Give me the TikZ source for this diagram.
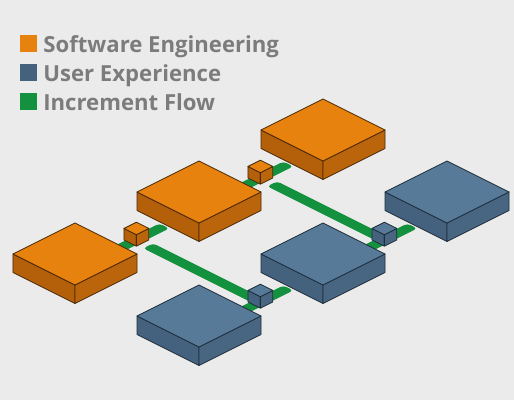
\documentclass[tikz,border=0pt]{standalone}
\usepackage{fontspec}
\setmainfont{Open Sans}
\usepackage{tikz}
\usetikzlibrary{positioning}

\definecolor{bgGray}{HTML}{EBEBEB}
\definecolor{orTop}{HTML}{E8820F}
\definecolor{orLeft}{HTML}{B4600B}
\definecolor{orRight}{HTML}{BA650C}
\definecolor{orEdge}{HTML}{4A2A05}
\definecolor{uxTop}{HTML}{567A98}
\definecolor{uxLeft}{HTML}{44617D}
\definecolor{uxRight}{HTML}{486682}
\definecolor{uxEdge}{HTML}{1F2E3C}
\definecolor{flowGreen}{HTML}{13913F}
\definecolor{legGray}{HTML}{7C7C7C}

\newcommand{\zground}{-0.37}
% block: a min, b min, size a, size b, bottom, top, colour prefix
\newcommand{\isoblock}[7]{%
  \filldraw[fill=#7Left, draw=#7Edge] (#1,#2,#6) -- (#1,#2+#4,#6) -- (#1,#2+#4,#5) -- (#1,#2,#5) -- cycle;
  \filldraw[fill=#7Right, draw=#7Edge] (#1,#2+#4,#6) -- (#1+#3,#2+#4,#6) -- (#1+#3,#2+#4,#5) -- (#1,#2+#4,#5) -- cycle;
  \filldraw[fill=#7Top, draw=#7Edge] (#1,#2,#6) -- (#1+#3,#2,#6) -- (#1+#3,#2+#4,#6) -- (#1,#2+#4,#6) -- cycle;
}

\begin{document}
\begin{tikzpicture}[
  legsq/.style={minimum size=0.34cm, inner sep=0pt, outer sep=0pt},
  legtext/.style={font=\fontsize{12.6}{15}\selectfont\bfseries, text=legGray, inner sep=0pt},
  flow/.style={fill=flowGreen, rounded corners=2pt}]
\fill[bgGray] (0,0) rectangle (10.28,8);
\useasboundingbox (0,0) rectangle (10.28,8);

% Legend
\node[legsq, fill=orTop] (legSE) at (0.57,7.12) {};
\node[legsq, fill=uxLeft] (legUX) at (0.57,6.54) {};
\node[legsq, fill=flowGreen] (legIF) at (0.57,5.96) {};
\node[legtext, anchor=base west] (txtSE) at ([xshift=0.12cm]legSE.south east) {Software Engineering};
\node[legtext, anchor=base west] (txtUX) at ([xshift=0.12cm]legUX.south east) {User Experience};
\node[legtext, anchor=base west] (txtIF) at ([xshift=0.12cm]legIF.south east) {Increment Flow};

\begin{scope}[shift={(1.5cm,3.54cm)}, x={(1.24cm,0.62cm)}, y={(1.24cm,-0.62cm)}, z={(0cm,1cm)},
  line width=0.45pt, line join=round]
% Increment flow strips on the ground
\foreach \i in {0,1} {
  \fill[flow] (0.1+2*\i,0.39,\zground) -- (0.97+2*\i,0.39,\zground) -- (0.97+2*\i,0.55,\zground) -- (0.1+2*\i,0.55,\zground) -- cycle;
  \fill[flow] (0.1+2*\i,2.39,\zground) -- (0.97+2*\i,2.39,\zground) -- (0.97+2*\i,2.55,\zground) -- (0.1+2*\i,2.55,\zground) -- cycle;
  \fill[flow] (0.44+2*\i,0.66,\zground) -- (0.6+2*\i,0.66,\zground) -- (0.6+2*\i,2.45,\zground) -- (0.44+2*\i,2.45,\zground) -- cycle;
}
% Big blocks
\foreach \i in {0,1,2} {
  \isoblock{2*\i-1}{0}{1}{1}{\zground}{0}{or}
  \isoblock{2*\i-1}{2}{1}{1}{\zground}{0}{ux}
}
% Small cubes on the flow
\foreach \i in {0,1} {
  \isoblock{0.42+2*\i}{0.37}{0.2}{0.2}{\zground}{\zground+0.23}{or}
  \isoblock{0.42+2*\i}{2.37}{0.2}{0.2}{\zground}{\zground+0.23}{ux}
}
\end{scope}
\end{tikzpicture}
\end{document}
